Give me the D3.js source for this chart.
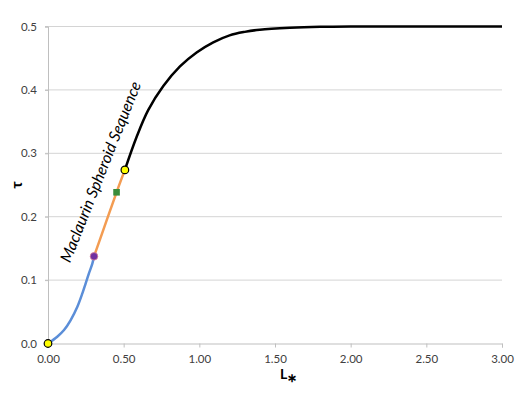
<!DOCTYPE html>
<html>
<head>
<meta charset="utf-8">
<script src="https://cdn.jsdelivr.net/npm/d3@7"></script>
<style>
  html, body { margin: 0; padding: 0; background: #fff; }
  svg { display: block; }
  text { font-family: Lato, "Open Sans", "Liberation Sans", sans-serif; }
</style>
</head>
<body>
<svg id="chart" width="525" height="394"></svg>
<script>
// ---- data ----
const xTicks = [0, 0.5, 1.0, 1.5, 2.0, 2.5, 3.0];
const yTicks = [0, 0.1, 0.2, 0.3, 0.4, 0.5];

// blue segment: origin to Jacobi bifurcation
const blueL   = [0, 0.061, 0.106, 0.150, 0.194, 0.227, 0.249, 0.271, 0.293, 0.304];
const blueTau = [0, 0.0107, 0.0213, 0.037, 0.058, 0.079, 0.095, 0.111, 0.126, 0.1375];

// orange segment: bifurcation to dynamical instability
const orangeL   = [0.304, 0.38, 0.453, 0.508];
const orangeTau = [0.1375, 0.189, 0.2385, 0.2738];

// black segment: beyond dynamical instability
const blackL   = [0.508, 0.586, 0.662, 0.762, 0.872, 0.982, 1.092, 1.2, 1.3, 1.4, 1.6, 1.8, 2.0, 2.5, 3.0];
const blackTau = [0.2738, 0.326, 0.368, 0.406, 0.437, 0.459, 0.475, 0.486, 0.4915, 0.495, 0.498, 0.4995, 0.5, 0.5, 0.5];

// markers
const yellowL   = [0, 0.508];
const yellowTau = [0, 0.2738];
const purpleL   = [0.304];
const purpleTau = [0.1375];
const greenL    = [0.453];
const greenTau  = [0.2385];

const curveLabel = "Maclaurin Spheroid Sequence";

// ---- drawing ----
const W = 525, H = 394;
const margin = { left: 48, right: 23, top: 26.5, bottom: 50.5 };
const svg = d3.select("#chart");

const x = d3.scaleLinear().domain([0, 3]).range([margin.left, W - margin.right]);
const y = d3.scaleLinear().domain([0, 0.5]).range([H - margin.bottom, margin.top]);

// gridlines
svg.append("g")
  .selectAll("line")
  .data(yTicks.slice(1))
  .join("line")
  .attr("x1", x(0) - 3).attr("x2", x(3))
  .attr("y1", d => y(d)).attr("y2", d => y(d))
  .attr("stroke", "#d4d4d4").attr("stroke-width", 1);

// y axis
const yAxis = svg.append("g")
  .attr("transform", `translate(${x(0)},0)`)
  .call(d3.axisLeft(y).tickValues(yTicks).tickFormat(d3.format(".1f")).tickSize(3).tickPadding(8));
yAxis.select(".domain").attr("stroke", "#bfbfbf");
yAxis.selectAll(".tick line").attr("stroke", "#bfbfbf");
yAxis.selectAll(".tick text").attr("fill", "#404040").style("font-size", "11.5px");

// x axis
const xAxis = svg.append("g")
  .attr("transform", `translate(0,${y(0)})`)
  .call(d3.axisBottom(x).tickValues(xTicks).tickFormat(d3.format(".2f")).tickSize(4).tickPadding(8));
xAxis.select(".domain").attr("stroke", "#bfbfbf");
xAxis.selectAll(".tick line").attr("stroke", "#bfbfbf");
xAxis.selectAll(".tick text").attr("fill", "#404040").style("font-size", "11.5px")
  .attr("y", 19).attr("dy", "0");

// lines
const line = d3.line().x(d => x(d[0])).y(d => y(d[1])).curve(d3.curveCatmullRom.alpha(0.5));
const zip = (a, b) => a.map((v, i) => [v, b[i]]);

svg.append("path").datum(zip(blueL, blueTau))
  .attr("d", line).attr("fill", "none").attr("stroke", "#5b8ed8").attr("stroke-width", 2.5);
svg.append("path").datum(zip(orangeL, orangeTau))
  .attr("d", line).attr("fill", "none").attr("stroke", "#f39c52").attr("stroke-width", 2.5);
svg.append("path").datum(zip(blackL, blackTau))
  .attr("d", line).attr("fill", "none").attr("stroke", "#000").attr("stroke-width", 2.5);

// markers
svg.append("g").selectAll("circle").data(zip(purpleL, purpleTau)).join("circle")
  .attr("cx", d => x(d[0])).attr("cy", d => y(d[1])).attr("r", 3.8)
  .attr("fill", "#7030a0").attr("stroke", "#d9829a").attr("stroke-width", 0.8);
svg.append("g").selectAll("rect").data(zip(greenL, greenTau)).join("rect")
  .attr("x", d => x(d[0]) - 3.3).attr("y", d => y(d[1]) - 3.3)
  .attr("width", 6.6).attr("height", 6.6)
  .attr("fill", "#3a8c3a");
svg.append("g").selectAll("circle").data(zip(yellowL, yellowTau)).join("circle")
  .attr("cx", d => x(d[0])).attr("cy", d => y(d[1])).attr("r", 3.8)
  .attr("fill", "#ffff00").attr("stroke", "#000").attr("stroke-width", 1.2);

// curve label
const lbl = svg.append("text")
  .attr("transform", "translate(70,263.5) rotate(-68.3)")
  .style("font-size", "14px").style("font-style", "italic")
  .attr("fill", "#000")
  .text(curveLabel);
const len = lbl.node().getComputedTextLength();
if (len > 0) lbl.style("font-size", (14 * 193 / len).toFixed(2) + "px");

// axis titles
svg.append("text")
  .attr("transform", "translate(22,185) rotate(-90)")
  .attr("text-anchor", "middle")
  .style("font-size", "15px").style("font-weight", "bold").attr("fill", "#000")
  .text("τ");

const xt = svg.append("text")
  .attr("x", 280).attr("y", 378.5)
  .style("font-size", "14px").style("font-weight", "bold").attr("fill", "#000");
xt.append("tspan").text("L");
xt.append("tspan").attr("dy", 3).style("font-size", "12px").text("∗");
</script>
</body>
</html>
